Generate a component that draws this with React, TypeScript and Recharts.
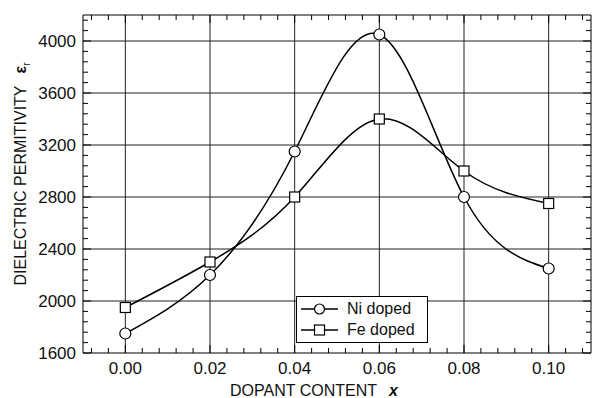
import {
  LineChart,
  Line,
  XAxis,
  YAxis,
  ReferenceLine,
  Legend,
} from "recharts";

const dopant = [0, 0.02, 0.04, 0.06, 0.08, 0.1];
const niDoped = [1750, 2200, 3150, 4050, 2800, 2250];
const feDoped = [1950, 2300, 2800, 3400, 3000, 2750];

const xMajor = [0, 0.02, 0.04, 0.06, 0.08, 0.1];
const xLabels = ["0.00", "0.02", "0.04", "0.06", "0.08", "0.10"];
const yMajor = [1600, 2000, 2400, 2800, 3200, 3600, 4000];
const yLabels = ["1600", "2000", "2400", "2800", "3200", "3600", "4000"];

const X_DOMAIN = [-0.01, 0.11];
const Y_DOMAIN = [1600, 4200];

// minor ticks: 5 subdivisions between majors
const xTicks: number[] = [];
for (let i = -2; i <= 27; i++) xTicks.push(Math.round(i * 4) / 1000);
const yTicks: number[] = [];
for (let i = 0; i <= 32; i++) yTicks.push(1600 + i * 80);

const data = dopant.map((x, i) => ({ x, ni: niDoped[i], fe: feDoped[i] }));

const FONT = "Arial, 'Liberation Sans', Helvetica, sans-serif";

function majorIndex(list: number[], v: number) {
  return list.findIndex((m) => Math.abs(m - v) < 1e-9);
}

function BottomTick({ x, y, payload }: any) {
  const idx = majorIndex(xMajor, payload.value);
  const len = idx >= 0 ? 8 : 5;
  return (
    <g>
      <line x1={x} x2={x} y1={y} y2={y - len} stroke="#000" />
      {idx >= 0 && (
        <text x={x} y={y + 21} textAnchor="middle" fontSize={17} fontFamily={FONT} fill="#111">
          {xLabels[idx]}
        </text>
      )}
    </g>
  );
}

function TopTick({ x, y, payload }: any) {
  const len = majorIndex(xMajor, payload.value) >= 0 ? 8 : 5;
  return <line x1={x} x2={x} y1={y} y2={y + len} stroke="#000" />;
}

function LeftTick({ x, y, payload }: any) {
  const idx = majorIndex(yMajor, payload.value);
  const len = idx >= 0 ? 8 : 5;
  return (
    <g>
      <line x1={x} x2={x + len} y1={y} y2={y} stroke="#000" />
      {idx >= 0 && (
        <text x={x - 7} y={y + 6} textAnchor="end" fontSize={17} fontFamily={FONT} fill="#111">
          {yLabels[idx]}
        </text>
      )}
    </g>
  );
}

function RightTick({ x, y, payload }: any) {
  const len = majorIndex(yMajor, payload.value) >= 0 ? 8 : 5;
  return <line x1={x} x2={x - len} y1={y} y2={y} stroke="#000" />;
}

function SquareDot({ cx, cy }: any) {
  if (cx == null || cy == null) return null;
  return <rect x={cx - 5} y={cy - 5} width={10} height={10} fill="#fff" stroke="#000" strokeWidth={1.2} />;
}

function CircleDot({ cx, cy }: any) {
  if (cx == null || cy == null) return null;
  return <circle cx={cx} cy={cy} r={5.5} fill="#fff" stroke="#000" strokeWidth={1.2} />;
}

const legendOrder = ["ni", "fe"];

function LegendBox({ payload }: any) {
  const items = [...(payload || [])].sort(
    (a: any, b: any) => legendOrder.indexOf(a.dataKey) - legendOrder.indexOf(b.dataKey)
  );
  return (
    <div
      style={{
        border: "1px solid #000",
        background: "#fff",
        width: 130,
        padding: "1px 0 2px 0",
        fontFamily: FONT,
        fontSize: 16,
        color: "#111",
      }}
    >
      {items.map((p: any) => (
        <div key={p.dataKey} style={{ display: "flex", alignItems: "center", height: 21 }}>
          <svg width={46} height={16} style={{ marginLeft: 4 }}>
            <line x1={0} x2={37} y1={8} y2={8} stroke="#000" strokeWidth={1.3} />
            {p.dataKey === "ni" ? (
              <circle cx={18.5} cy={8} r={5} fill="#fff" stroke="#000" strokeWidth={1.2} />
            ) : (
              <rect x={13.5} y={3} width={10} height={10} fill="#fff" stroke="#000" strokeWidth={1.2} />
            )}
          </svg>
          <span>{p.value}</span>
        </div>
      ))}
    </div>
  );
}

function XTitle() {
  return (
    <text x={314} y={396} textAnchor="middle" fontSize={16} fontFamily={FONT} fill="#111">
      DOPANT CONTENT
      <tspan dx={12} fontWeight="bold" fontStyle="italic">x</tspan>
    </text>
  );
}

function YTitle() {
  return (
    <text
      x={0}
      y={0}
      transform="translate(26, 174) rotate(-90)"
      textAnchor="middle"
      fontSize={16}
      fontFamily={FONT}
      fill="#111"
    >
      DIELECTRIC PERMITIVITY
      <tspan dx={12} fontWeight="bold">ε</tspan>
      <tspan fontSize={10} dy={4}>r</tspan>
    </text>
  );
}

export default function App() {
  return (
    <div style={{ width: 593, height: 398, background: "#fff" }}>
      <style>{`body{margin:0}`}</style>
      <LineChart
        width={593}
        height={398}
        data={data}
        margin={{ top: 14, right: 1, bottom: 15, left: 23 }}
      >
        <XAxis
          xAxisId="b"
          dataKey="x"
          type="number"
          domain={X_DOMAIN}
          ticks={xTicks}
          interval={0}
          orientation="bottom"
          height={30}
          tickSize={0}
          tickMargin={0}
          tickLine={false}
          axisLine={{ stroke: "#000" }}
          tick={BottomTick}
          label={{ content: XTitle }}
          allowDataOverflow
        />
        <XAxis
          xAxisId="t"
          dataKey="x"
          type="number"
          domain={X_DOMAIN}
          ticks={xTicks}
          interval={0}
          orientation="top"
          height={1}
          tickSize={0}
          tickMargin={0}
          tickLine={false}
          axisLine={{ stroke: "#000" }}
          tick={TopTick}
          allowDataOverflow
        />
        <YAxis
          yAxisId="l"
          type="number"
          domain={Y_DOMAIN}
          ticks={yTicks}
          interval={0}
          orientation="left"
          width={60}
          tickSize={0}
          tickMargin={0}
          tickLine={false}
          axisLine={{ stroke: "#000" }}
          tick={LeftTick}
          label={{ content: YTitle }}
          allowDataOverflow
        />
        <YAxis
          yAxisId="r"
          type="number"
          domain={Y_DOMAIN}
          ticks={yTicks}
          interval={0}
          orientation="right"
          width={1}
          tickSize={0}
          tickMargin={0}
          tickLine={false}
          axisLine={{ stroke: "#000" }}
          tick={RightTick}
          allowDataOverflow
        />
        {xMajor.map((v) => (
          <ReferenceLine key={"gx" + v} x={v} xAxisId="b" yAxisId="l" stroke="#222" strokeWidth={1} />
        ))}
        {yMajor.slice(1).map((v) => (
          <ReferenceLine key={"gy" + v} y={v} xAxisId="b" yAxisId="l" stroke="#222" strokeWidth={1} />
        ))}
        <Line
          xAxisId="b"
          yAxisId="l"
          type="natural"
          dataKey="ni"
          name="Ni doped"
          stroke="#000"
          strokeWidth={1.5}
          dot={CircleDot}
          activeDot={false}
          isAnimationActive={false}
        />
        <Line
          xAxisId="b"
          yAxisId="l"
          type="natural"
          dataKey="fe"
          name="Fe doped"
          stroke="#000"
          strokeWidth={1.5}
          dot={SquareDot}
          activeDot={false}
          isAnimationActive={false}
        />
        <Legend
          layout="vertical"
          align="center"
          verticalAlign="middle"
          content={LegendBox}
          wrapperStyle={{ position: "absolute", left: 296, top: 296, width: 132, height: 45 }}
        />
      </LineChart>
    </div>
  );
}
